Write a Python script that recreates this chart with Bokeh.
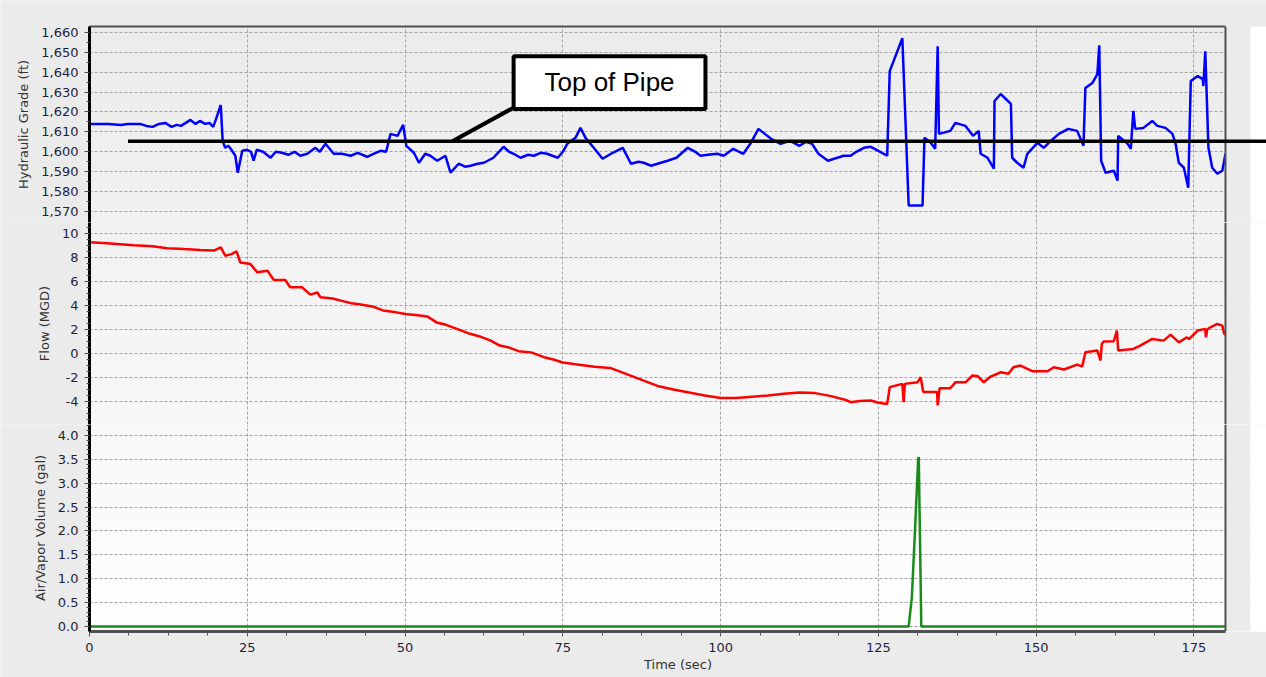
from bokeh.plotting import figure
from bokeh.layouts import column
from bokeh.models import (LinearAxis, FixedTicker, NumeralTickFormatter, Range1d,
                          BoxAnnotation, Label, Arrow, Span)
from bokeh.embed import file_html
from bokeh.resources import INLINE

# ---------------- data ----------------
x_ticks = [0, 25, 50, 75, 100, 125, 150, 175]

hgl_t = [0, 3, 5, 6, 8, 9, 10, 11, 12, 13, 13.8, 14.5, 15, 16, 16.8, 17.5, 18.3, 19, 19.6, 20, 20.8,
         21.1, 21.5, 22, 22.6, 23.1, 23.5, 24.2, 25, 25.6, 26, 26.5, 27.5, 28.7, 29.5, 30.5, 31.5,
         32.5, 33.4, 34.5, 35.8, 36.5, 37.4, 38.7, 40, 41.4, 42.5, 44, 45, 46.1, 47, 47.7, 48.8,
         49.7, 50.2, 51.4, 52.2, 53.2, 54, 55.1, 56.4, 57.2, 58.5, 59.5, 60.4, 61.5, 62.5, 64,
         65.6, 66.5, 67.2, 68.3, 69.5, 70.4, 71.5, 72.5, 74.2, 75, 75.7, 77, 77.8, 78.6, 79.9,
         81.3, 82.1, 82.9, 84.5, 85.8, 87, 87.8, 89, 90, 91.6, 93, 94.8, 96, 96.8, 98, 99.5,
         100.5, 102, 103.6, 104.7, 106, 107, 108, 109.5, 111, 112.5, 113.5, 114.5, 115.5, 117,
         118.5, 119.5, 120.6, 121.5, 122.7, 123.8, 125, 126.4, 126.8, 128.8, 129.8, 132, 132.3,
         133.3, 134, 134.4, 134.6, 136.4, 137.2, 138.8, 140, 140.9, 141.2, 142.3, 143.3, 143.4,
         144.4, 145.2, 146, 146.2, 147, 148, 148.6, 150.2, 151.2, 152.3, 153.6, 155.1, 156.5,
         157.5, 157.8, 158.9, 159.7, 160, 160.3, 161, 162.3, 162.9, 163, 164.5, 165, 165.4,
         165.7, 167, 168.4, 169.2, 170.5, 171.6, 172.1, 172.6, 173.4, 174.1, 174.5, 175.6,
         176.4, 176.5, 176.8, 177.3, 177.9, 178.7, 179.5, 180]
hgl_v = [1614, 1614, 1613.5, 1614, 1614, 1613, 1612.5, 1614, 1614.5, 1612.5, 1613.5, 1613, 1614,
         1616, 1614, 1615.5, 1614, 1614.5, 1612.5, 1616, 1623.5, 1605.5, 1602, 1603, 1600.5, 1598,
         1589.5, 1600.5, 1601, 1600, 1595.5, 1601, 1600, 1597, 1600, 1599.5, 1598.5, 1600, 1598,
         1599, 1602, 1600, 1604, 1599, 1599, 1598, 1599.5, 1597.5, 1599, 1600.5, 1600, 1609,
         1608, 1613.5, 1603, 1599.5, 1594.5, 1599, 1598, 1595.5, 1598, 1589.5, 1594, 1592.5,
         1593, 1594, 1594.5, 1597, 1602.5, 1600, 1599, 1597, 1598.5, 1598, 1599.5, 1599, 1597,
         1600, 1604, 1607, 1612, 1607, 1602, 1596.5, 1598, 1599.5, 1602, 1594, 1595, 1594.5,
         1593, 1594, 1595.5, 1597, 1602, 1600, 1598, 1598.5, 1599, 1598, 1601.5, 1599, 1604,
         1611.5, 1609, 1606.5, 1604, 1605.5, 1603, 1605, 1604, 1599, 1595.5, 1597, 1598, 1598,
         1600, 1602, 1602.5, 1600.5, 1598, 1640.5, 1657, 1573, 1573, 1607, 1604.5, 1601.5, 1653,
         1609, 1610.5, 1614.5, 1613, 1608, 1610.5, 1599, 1597, 1591.5, 1625.5, 1629, 1626.5,
         1624, 1597, 1594.5, 1592, 1599, 1604.5, 1602, 1605.5, 1609, 1611.5, 1610.5, 1603, 1632,
         1634.5, 1639, 1653.5, 1595.5, 1589.5, 1590.5, 1585.5, 1608, 1604, 1601.5, 1620.5,
         1611.5, 1612, 1615.5, 1613, 1612, 1609, 1604, 1594.5, 1592, 1582, 1635.5, 1638, 1636.5,
         1633, 1650.5, 1602, 1592, 1589, 1590.5, 1599]

flow_t = [0, 2.8, 7, 10, 12.3, 15, 17.5, 19.7, 20.8, 21.5, 22.5, 23.3, 23.9, 25.5, 26.6, 28.2,
          29.2, 31, 31.8, 33.7, 35, 36.1, 36.6, 38.5, 40, 41.5, 43, 45, 46.5, 48, 50, 52, 53.5,
          55, 56.5, 58, 60, 62, 63.5, 65, 66.5, 68, 70, 72, 73.5, 75, 77, 80, 82.5, 85, 87.5, 90,
          92.5, 95, 97.5, 100, 102.5, 105, 107.5, 110, 112.5, 115, 117.5, 120, 120.6, 122, 123.8,
          125, 126.4, 126.8, 128.8, 129, 129.2, 131.2, 131.7, 132.1, 134.3, 134.4, 134.7, 136.4,
          137.2, 138.8, 139.9, 140.8, 141.7, 142.8, 144.4, 145.6, 146.4, 147.5, 149.4, 151.8,
          152.8, 154.4, 156.5, 157.3, 157.8, 159.7, 160.2, 160.4, 160.7, 162.3, 162.8, 163,
          165.4, 166.5, 168.4, 170.2, 171.3, 172.6, 173.9, 174.2, 175.6, 176.8, 176.9, 177.1,
          177.6, 178.7, 179.5, 179.8, 180]
flow_v = [9.3, 9.2, 9.05, 8.95, 8.8, 8.72, 8.65, 8.6, 8.86, 8.17, 8.3, 8.53, 7.6, 7.47, 6.78, 6.92,
          6.14, 6.14, 5.53, 5.53, 4.92, 5.1, 4.7, 4.6, 4.4, 4.2, 4.1, 3.9, 3.6, 3.5, 3.3, 3.2, 3.1,
          2.6, 2.4, 2.1, 1.7, 1.4, 1.1, 0.67, 0.5, 0.2, 0.1, -0.3, -0.5, -0.75, -0.9, -1.1, -1.2,
          -1.7, -2.2, -2.7, -3.0, -3.25, -3.5, -3.7, -3.7, -3.6, -3.5, -3.35, -3.25, -3.3, -3.55,
          -3.9, -4.06, -3.95, -3.92, -4.1, -4.2, -2.8, -2.53, -4.05, -2.53, -2.4, -1.97, -3.2,
          -3.2, -4.33, -2.9, -2.9, -2.4, -2.4, -1.83, -1.9, -2.4, -1.92, -1.56, -1.69, -1.14,
          -1.0, -1.47, -1.47, -1.14, -1.33, -0.92, -1.08, 0.11, 0.25, -0.58, 0.8, 1.0, 1.03,
          1.92, 0.25, 0.39, 0.67, 1.22, 1.08, 1.58, 0.94, 1.36, 1.2, 1.92, 2.06, 1.36, 2.0, 2.19,
          2.47, 2.33, 1.64, 1.6]

air_t = [0, 129.8, 130.3, 130.8, 131.3, 131.4, 131.8, 180]
air_v = [0, 0, 0.6, 2.0, 3.5, 3.55, 0, 0]

hgl_ticks = [1570, 1580, 1590, 1600, 1610, 1620, 1630, 1640, 1650, 1660]
flow_ticks = [-4, -2, 0, 2, 4, 6, 8, 10]
air_ticks = [0.0, 0.5, 1.0, 1.5, 2.0, 2.5, 3.0, 3.5, 4.0]

t_max = 180
top_of_pipe = 1605.3
annot_text = "Top of Pipe"

# ---------------- styling ----------------
FONT = "DejaVu Sans"
TXT = "#1e1e3c"
GRID = "#a4a4a4"
EDGE = "#505050"
OUTER = "#ebebeb"
W = 1266
PX_PER_UNIT = 6.311           # 0..180 s spans x = 89..1225 px
X_END = (W - 89) / PX_PER_UNIT  # frame runs to the window edge
STRIP = (1250 - 89) / PX_PER_UNIT
PLOT_TOP, PLOT_BOTTOM = 26, 631  # pixel extent of the stacked plot area (for the gradient)

xr = Range1d(0, X_END)


def shade(py):
    lvl = int(round(235 + 19 * (py - PLOT_TOP) / (PLOT_BOTTOM - PLOT_TOP)))
    lvl = max(0, min(255, lvl))
    return "#%02x%02x%02x" % (lvl, lvl, lvl)


def make_fig(height, yr, ftop, fbot, top, bottom, with_x=False):
    lo, hi = yr
    p = figure(width=W, height=height, x_range=xr, y_range=Range1d(lo, hi),
               output_backend="svg", toolbar_location=None,
               x_axis_location="below" if with_x else None,
               min_border_left=89, min_border_right=0,
               min_border_top=top, min_border_bottom=bottom,
               background_fill_color=shade((ftop + fbot) / 2), border_fill_color=OUTER,
               outline_line_color=None)
    # vertical gradient of the plot background, in bands
    step = 8
    py = ftop
    while py < fbot:
        nb = min(py + step, fbot)
        b_top = hi - (py - ftop) / (fbot - ftop) * (hi - lo)
        b_bot = hi - (nb - ftop) / (fbot - ftop) * (hi - lo)
        if py == ftop:
            b_top = hi + (hi - lo)
        if nb == fbot:
            b_bot = lo - (hi - lo)
        p.add_layout(BoxAnnotation(top=b_top, bottom=b_bot, fill_color=shade((py + nb) / 2),
                                   fill_alpha=1, line_alpha=0, level="image"))
        py = nb
    p.xgrid.ticker = FixedTicker(ticks=x_ticks)
    for g in (p.xgrid, p.ygrid):
        g.grid_line_color = GRID
        g.grid_line_dash = "3 2"
        g.grid_line_width = 1
    ax = p.yaxis[0]
    ax.axis_line_color = "black"
    ax.axis_line_width = 3
    ax.major_tick_out = 5
    ax.major_tick_in = 0
    ax.minor_tick_out = 3
    ax.minor_tick_in = 0
    ax.major_tick_line_color = EDGE
    ax.minor_tick_line_color = EDGE
    ax.major_label_text_font = FONT
    ax.major_label_text_font_size = "13px"
    ax.major_label_text_color = TXT
    ax.major_label_standoff = 6
    ax.axis_label_text_font = FONT
    ax.axis_label_text_font_size = "13px"
    ax.axis_label_text_font_style = "normal"
    ax.axis_label_text_color = "#333333"
    ax.axis_label_standoff = 7
    # area right of the plot: grey margin, then white strip
    p.add_layout(BoxAnnotation(left=t_max, right=STRIP, fill_color=OUTER, fill_alpha=1,
                               line_alpha=0))
    p.add_layout(BoxAnnotation(left=STRIP, fill_color="white", fill_alpha=1, line_alpha=0))
    p.add_layout(Span(location=t_max, dimension="height", line_color=EDGE, line_width=2))
    return p


# Panel 1: hydraulic grade
p1 = make_fig(222, (1564.5, 1662.9), 26, 222, 26, 0)
p1.yaxis[0].ticker = FixedTicker(ticks=hgl_ticks, minor_ticks=[v + 5 for v in hgl_ticks[:-1]])
p1.yaxis[0].formatter = NumeralTickFormatter(format="0,0")
p1.yaxis[0].axis_label = "Hydraulic Grade (ft)"
tax = LinearAxis(ticker=FixedTicker(ticks=[]), axis_line_color=EDGE, axis_line_width=2,
                 major_tick_out=0, major_tick_in=0, minor_tick_out=0, minor_tick_in=0,
                 major_label_standoff=0, bounds=(0, t_max))
p1.add_layout(tax, "above")
p1.line(hgl_t, hgl_v, line_color="#0000ff", line_width=2.5)

# annotation
p1.add_layout(Arrow(end=None, x_start=6.1, y_start=top_of_pipe, x_end=X_END + 5,
                    y_end=top_of_pipe, line_color="black", line_width=3.5, level="overlay"))
p1.add_layout(Arrow(end=None, x_start=57.5, y_start=top_of_pipe, x_end=67.4, y_end=1622.5,
                    line_color="black", line_width=4, level="overlay"))
p1.add_layout(BoxAnnotation(left=67.2, right=97.6, top=1648, bottom=1621.5,
                            fill_color="white", fill_alpha=1, line_color="black",
                            line_alpha=1, line_width=4, level="overlay"))
p1.add_layout(Label(x=82.4, y=1634.8, text=annot_text, text_align="center",
                    text_baseline="middle", text_font="Liberation Sans",
                    text_font_size="26px", text_color="black", level="overlay"))

# Panel 2: flow
p2 = make_fig(202, (-5.92, 10.94), 222, 424, 0, 0)
p2.yaxis[0].ticker = FixedTicker(ticks=flow_ticks,
                                 minor_ticks=[v / 2 for v in range(-11, 22)])
p2.yaxis[0].formatter = NumeralTickFormatter(format="0")
p2.yaxis[0].axis_label = "Flow (MGD)"
p2.line(flow_t, flow_v, line_color="#ff0000", line_width=2.5)

# Panel 3: air volume
p3 = make_fig(253, (-0.105, 4.23), 424, 631, 0, 46, with_x=True)
p3.yaxis[0].ticker = FixedTicker(ticks=air_ticks, minor_ticks=[v / 10 for v in range(0, 43)])
p3.yaxis[0].formatter = NumeralTickFormatter(format="0.0")
p3.yaxis[0].axis_label = "Air/Vapor Volume (gal)"
xa = p3.xaxis[0]
xa.ticker = FixedTicker(ticks=x_ticks, minor_ticks=[v * 6.25 for v in range(0, 29)])
xa.bounds = (0, t_max)
xa.axis_line_color = EDGE
xa.axis_line_width = 3
xa.major_tick_out = 5
xa.major_tick_in = 0
xa.minor_tick_out = 4
xa.minor_tick_in = 0
xa.major_tick_line_color = EDGE
xa.minor_tick_line_color = EDGE
xa.major_label_text_font = FONT
xa.major_label_text_font_size = "13px"
xa.major_label_text_color = TXT
xa.major_label_standoff = 6
xa.axis_label = "Time (sec)"
xa.axis_label_text_font = FONT
xa.axis_label_text_font_size = "13px"
xa.axis_label_text_font_style = "normal"
xa.axis_label_text_color = "#333333"
xa.axis_label_standoff = 2
p3.line(air_t, air_v, line_color="#1a8a1a", line_width=2.5)

layout = column(p1, p2, p3, spacing=0, background="#f3f3f3")
open("out.html", "w").write(file_html(layout, INLINE))
